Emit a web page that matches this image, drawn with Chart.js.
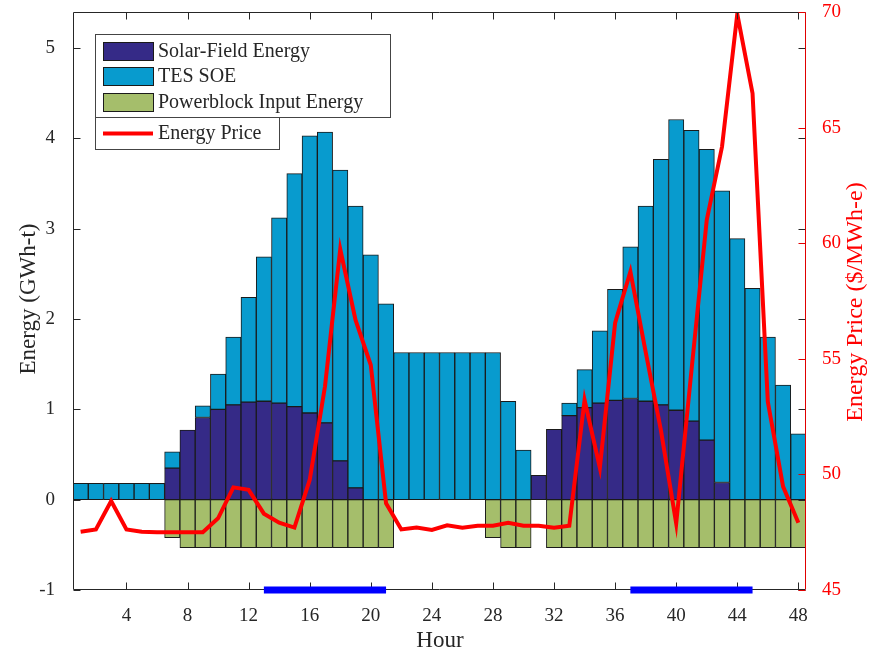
<!DOCTYPE html>
<html>
<head>
<meta charset="utf-8">
<script src="https://cdn.jsdelivr.net/npm/chart.js@4/dist/chart.umd.min.js"></script>
<style>
  html, body { margin: 0; padding: 0; background: #fff; }
</style>
</head>
<body>
<canvas id="chart" width="871" height="655"></canvas>
<script>
// hours 1..48
const hours = [1,2,3,4,5,6,7,8,9,10,11,12,13,14,15,16,17,18,19,20,21,22,23,24,
               25,26,27,28,29,30,31,32,33,34,35,36,37,38,39,40,41,42,43,44,45,46,47,48]

// GWh-t
const solarField = [0,0,0,0,0,0,0.35,0.77,0.91,1.00,1.05,1.08,1.09,1.07,1.03,0.96,0.85,0.43,0.13,0,0,0,0,0,
                    0,0,0,0,0,0,0.27,0.78,0.93,1.02,1.07,1.10,1.12,1.09,1.05,0.99,0.87,0.66,0.19,0,0,0,0,0]
const tesSoe = [0.18,0.18,0.18,0.18,0.18,0.18,0.18,0,0.13,0.39,0.75,1.16,1.60,2.05,2.58,3.07,3.22,3.22,3.12,2.71,2.17,1.63,1.63,1.63,
                1.63,1.63,1.63,1.63,1.09,0.55,0,0,0.14,0.42,0.80,1.23,1.68,2.16,2.72,3.22,3.22,3.22,3.23,2.89,2.34,1.80,1.27,0.73]
const powerblock = [0,0,0,0,0,0,-0.42,-0.53,-0.53,-0.53,-0.53,-0.53,-0.53,-0.53,-0.53,-0.53,-0.53,-0.53,-0.53,-0.53,-0.53,0,0,0,
                    0,0,0,-0.42,-0.53,-0.53,0,-0.53,-0.53,-0.53,-0.53,-0.53,-0.53,-0.53,-0.53,-0.53,-0.53,-0.53,-0.53,-0.53,-0.53,-0.53,-0.53,-0.53]

// $/MWh-e
const price = [47.52,47.62,48.85,47.62,47.52,47.5,47.5,47.5,47.5,48.1,49.44,49.33,48.3,47.91,47.7,49.76,53.8,59.74,56.68,54.73,48.75,47.62,47.7,47.6,
               47.8,47.69,47.78,47.78,47.91,47.78,47.78,47.69,47.78,53.22,50.29,56.55,58.77,55.3,51.9,47.88,54.5,61.0,64.17,69.91,66.48,53.14,49.47,47.91]

// peak price windows (blue bars on the axis)
const peakStart = [13, 37]
const peakEnd = [21, 45]

const xTicks = [4,8,12,16,20,24,28,32,36,40,44,48]
const energyTicks = [-1,0,1,2,3,4,5]
const priceTicks = [45,50,55,60,65,70]

const FONT = "'Liberation Serif', 'Times New Roman', serif"
const INK = '#262626'

function pts(vals) {
    return hours.map((h, i) => ({ x: h, y: vals[i] }))
}

let peakPts = []
peakStart.forEach((s, i) => {
    if (i > 0) peakPts.push({ x: (peakEnd[i - 1] + s) / 2, y: null })
    peakPts.push({ x: s, y: -1 })
    peakPts.push({ x: peakEnd[i], y: -1 })
})

const barStyle = { borderColor: '#1a1a1a', borderWidth: 1, borderSkipped: false,
                   barPercentage: 1, categoryPercentage: 1, yAxisID: 'y' }

function noPad(axis) {
    axis.paddingTop = 0; axis.paddingBottom = 0
    axis.paddingLeft = 0; axis.paddingRight = 0
}

// axes box, inward ticks
const framePlugin = {
    id: 'frame',
    beforeDatasetDraw(chart, args) {
        if (args.index !== 4) return
        const ctx = chart.ctx
        const a = chart.chartArea
        const sx = chart.scales.x, sy = chart.scales.y, sy2 = chart.scales.y2
        const L = Math.round(a.left) + 0.5, R = Math.round(a.right) - 0.5
        const T = Math.round(a.top) + 0.5, B = Math.round(a.bottom) - 0.5
        ctx.save()
        ctx.lineWidth = 1
        ctx.strokeStyle = INK
        ctx.beginPath()
        ctx.moveTo(R, T); ctx.lineTo(L, T); ctx.lineTo(L, B); ctx.lineTo(R, B)
        xTicks.forEach(v => {
            const px = Math.round(sx.getPixelForValue(v)) + 0.5
            ctx.moveTo(px, B); ctx.lineTo(px, B - 7)
            ctx.moveTo(px, T); ctx.lineTo(px, T + 7)
        })
        energyTicks.forEach(v => {
            const py = Math.round(sy.getPixelForValue(v)) + 0.5
            ctx.moveTo(L, py); ctx.lineTo(L + 7, py)
            ctx.moveTo(R, py); ctx.lineTo(R - 7, py)
        })
        ctx.stroke()
        ctx.strokeStyle = '#e00000'
        ctx.beginPath()
        ctx.moveTo(R, T); ctx.lineTo(R, B)
        priceTicks.forEach(v => {
            const py = Math.round(sy2.getPixelForValue(v)) + 0.5
            ctx.moveTo(R, py); ctx.lineTo(R - 7, py)
        })
        ctx.stroke()
        ctx.restore()
    }
}

// two-box legend + axis titles
const legendPlugin = {
    id: 'boxLegend',
    afterDraw(chart) {
        const ctx = chart.ctx
        const ds = chart.data.datasets
        ctx.save()
        ctx.fillStyle = '#fff'
        ctx.strokeStyle = '#444'
        ctx.lineWidth = 1
        ctx.fillRect(95.5, 34.5, 295, 83)
        ctx.strokeRect(95.5, 34.5, 295, 83)
        ctx.fillRect(95.5, 117.5, 184, 32)
        ctx.strokeRect(95.5, 117.5, 184, 32)

        ctx.font = '20px ' + FONT
        ctx.textBaseline = 'middle'
        ctx.textAlign = 'left'
        const rows = [51, 76, 102]
        ;[1, 2, 3].forEach((di, r) => {
            ctx.fillStyle = ds[di].backgroundColor
            ctx.fillRect(103, rows[r] - 9, 50, 18)
            ctx.strokeStyle = '#1a1a1a'
            ctx.strokeRect(103.5, rows[r] - 8.5, 50, 18)
            ctx.fillStyle = INK
            ctx.fillText(ds[di].label, 158, rows[r] + 1)
        })
        ctx.strokeStyle = ds[0].borderColor
        ctx.lineWidth = 4
        ctx.beginPath()
        ctx.moveTo(103, 133.5); ctx.lineTo(153, 133.5)
        ctx.stroke()
        ctx.fillStyle = INK
        ctx.fillText(ds[0].label, 158, 134)

        // titles
        ctx.font = '23px ' + FONT
        ctx.textAlign = 'center'
        ctx.fillText('Hour', 440, 641)
        ctx.save()
        ctx.translate(29, 299)
        ctx.rotate(-Math.PI / 2)
        ctx.fillText('Energy (GWh-t)', 0, 0)
        ctx.restore()
        ctx.save()
        ctx.translate(856, 302)
        ctx.rotate(-Math.PI / 2)
        ctx.font = '24px ' + FONT
        ctx.fillStyle = '#ff0000'
        ctx.fillText('Energy Price ($/MWh-e)', 0, 0)
        ctx.restore()
        ctx.restore()
    }
}

new Chart(document.getElementById('chart'), {
    data: {
        datasets: [
            {
                type: 'line', label: 'Energy Price', data: pts(price), yAxisID: 'y2',
                borderColor: '#ff0000', borderWidth: 4, pointRadius: 0, tension: 0, order: 0,
                borderJoinStyle: 'miter'
            },
            { type: 'bar', label: 'Solar-Field Energy', data: pts(solarField), backgroundColor: '#352A87', order: 1, ...barStyle },
            { type: 'bar', label: 'TES SOE', data: pts(tesSoe), backgroundColor: '#089BCE', order: 2, ...barStyle },
            { type: 'bar', label: 'Powerblock Input Energy', data: pts(powerblock), backgroundColor: '#A5BE6B', order: 3, ...barStyle },
            {
                type: 'line', label: 'peak', data: peakPts, yAxisID: 'y3',
                borderColor: '#0000ff', borderWidth: 7, pointRadius: 0, spanGaps: false,
                borderCapStyle: 'butt', clip: false, order: -1
            }
        ]
    },
    options: {
        responsive: false,
        devicePixelRatio: 1,
        animation: false,
        layout: { padding: { top: 12, left: 0, right: 0, bottom: 0 } },
        plugins: { legend: { display: false }, tooltip: { enabled: false } },
        scales: {
            x: {
                type: 'linear', min: 0.5, max: 48.5, offset: false, stacked: true,
                grid: { display: false }, border: { display: false },
                afterBuildTicks: axis => { axis.ticks = xTicks.map(v => ({ value: v })) },
                afterFit: axis => { axis.height = 65; noPad(axis) },
                ticks: { color: INK, font: { family: FONT, size: 19 }, padding: 7, maxRotation: 0, autoSkip: false }
            },
            y: {
                position: 'left', min: -1, max: 5.4, stacked: true,
                grid: { display: false }, border: { display: false },
                afterBuildTicks: axis => { axis.ticks = energyTicks.map(v => ({ value: v })) },
                afterFit: axis => { axis.width = 73; noPad(axis) },
                ticks: { color: INK, font: { family: FONT, size: 19 }, padding: 10 }
            },
            y2: {
                position: 'right', min: 45, max: 70,
                grid: { display: false }, border: { display: false },
                afterBuildTicks: axis => { axis.ticks = priceTicks.map(v => ({ value: v })) },
                afterFit: axis => { axis.width = 65; noPad(axis) },
                ticks: { color: '#ff0000', font: { family: FONT, size: 19 }, padding: 8 }
            },
            y3: { display: false, min: -1, max: 5.4 }
        }
    },
    plugins: [framePlugin, legendPlugin]
})
</script>
</body>
</html>
